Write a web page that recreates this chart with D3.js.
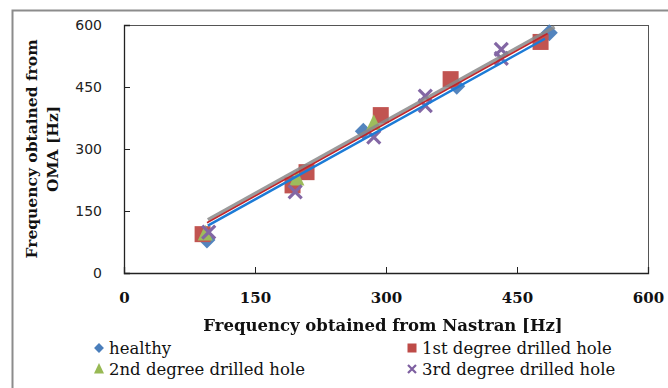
<!DOCTYPE html>
<html>
<head>
<meta charset="utf-8">
<script src="https://cdn.jsdelivr.net/npm/d3@7"></script>
<style>
  body { margin: 0; background: #fff; }
  svg { display: block; }
</style>
</head>
<body>
<div class="chart"></div>
<script>
// values (Nastran Hz, OMA Hz)
var seriesNames = ["healthy", "1st degree drilled hole", "2nd degree drilled hole", "3rd degree drilled hole"];
var healthy = [[95, 80], [193, 218], [274, 343], [381, 452], [487, 581]];
var firstDegree = [[90, 94], [193, 212], [209, 244], [294, 382], [374, 469], [477, 559]];
var secondDegree = [[93, 95], [198, 228], [286, 362]];
var thirdDegree = [[97, 99], [196, 196], [286, 329], [345, 428], [345, 405], [432, 541], [432, 519]];

// linear trendlines shown on the chart: slope, intercept, x from, x to
var trendSlope = [1.171, 1.174, 1.175];
var trendIntercept = [2.3, 10, 16];
var trendFrom = [96, 95, 96];
var trendTo = [482, 485, 493];

var xTicks = [0, 150, 300, 450, 600];
var yTicks = [0, 150, 300, 450, 600];

var svgWidth = 668;
var svgHeight = 388;
var margin = { top: 25, right: 20, bottom: 115, left: 124 };
var width = 648 - margin.left;
var height = 273 - margin.top;

var colors = ["#4a7ebb", "#be4b48", "#98b954", "#7d5fa0"];

var svg = d3.select(".chart").append("svg")
    .attr("width", svgWidth)
    .attr("height", svgHeight);

svg.append("rect")
    .attr("width", svgWidth).attr("height", svgHeight)
    .attr("fill", "#fff");

// outer chart frame (runs off the right and bottom edges)
svg.append("rect")
    .attr("x", 12.5).attr("y", 10.5)
    .attr("width", 670).attr("height", 400)
    .attr("fill", "none")
    .attr("stroke", "#8c8c8c")
    .attr("stroke-width", 2);

var chartGroup = svg.append("g")
    .attr("transform", `translate(${margin.left}, ${margin.top})`);

var x = d3.scaleLinear().domain([0, 600]).range([0, width]);
var y = d3.scaleLinear().domain([0, 600]).range([height, 0]);

// plot frame
chartGroup.append("rect")
    .attr("x", 0.5).attr("y", 0.5)
    .attr("width", width).attr("height", height)
    .attr("fill", "none")
    .attr("stroke", "#555")
    .attr("stroke-width", 1);

var bottomAxis = d3.axisBottom(x).tickValues(xTicks).tickSize(-6).tickPadding(19);
var leftAxis = d3.axisLeft(y).tickValues(yTicks).tickSize(-6).tickPadding(22);

var xAxis = chartGroup.append("g")
    .attr("transform", `translate(0, ${height})`)
    .call(bottomAxis);
xAxis.selectAll("text")
    .style("font-family", "'DejaVu Serif', serif")
    .style("font-weight", "bold")
    .style("font-size", "15px")
    .attr("fill", "#111");

var yAxis = chartGroup.append("g").call(leftAxis);
yAxis.selectAll("text")
    .style("font-family", "'DejaVu Sans', sans-serif")
    .style("font-size", "14px")
    .attr("fill", "#222")
    .attr("dy", "0.35em");

chartGroup.selectAll(".domain").attr("stroke", "#222").attr("stroke-width", 1.3);
chartGroup.selectAll(".tick line").attr("stroke", "#222");

// markers
function diamond(g, d, s) {
    g.append("rect")
        .attr("x", -s / 2).attr("y", -s / 2)
        .attr("width", s).attr("height", s)
        .attr("transform", `translate(${d[0]}, ${d[1]}) rotate(45)`)
        .attr("fill", colors[0]);
}
function square(g, d, s) {
    g.append("rect")
        .attr("x", d[0] - s / 2).attr("y", d[1] - s / 2)
        .attr("width", s).attr("height", s)
        .attr("fill", colors[1]);
}
function triangle(g, d, s) {
    g.append("path")
        .attr("d", `M${d[0]},${d[1] - s * 0.6}L${d[0] + s / 2},${d[1] + s * 0.45}L${d[0] - s / 2},${d[1] + s * 0.45}Z`)
        .attr("fill", colors[2]);
}
function cross(g, d, s, w) {
    g.append("path")
        .attr("d", `M${d[0] - s / 2},${d[1] - s / 2}L${d[0] + s / 2},${d[1] + s / 2}M${d[0] + s / 2},${d[1] - s / 2}L${d[0] - s / 2},${d[1] + s / 2}`)
        .attr("stroke", colors[3])
        .attr("stroke-width", w)
        .attr("fill", "none");
}

var markers = chartGroup.append("g").attr("opacity", 0.95);
healthy.forEach(function (d) { diamond(markers, [x(d[0]), y(d[1])], 12); });
firstDegree.forEach(function (d) { square(markers, [x(d[0]), y(d[1])], 16); });
secondDegree.forEach(function (d) { triangle(markers, [x(d[0]), y(d[1])], 15); });
thirdDegree.forEach(function (d) { cross(markers, [x(d[0]), y(d[1])], 13, 3.2); });

// trendlines
var trendColors = ["#1c7bd6", "#c0262b", "#8a8a8a"];
var trendWidths = [2.5, 1.5, 3.5];
var lineOrder = [2, 0, 1];
lineOrder.forEach(function (i) {
    chartGroup.append("line")
        .attr("x1", x(trendFrom[i]))
        .attr("y1", y(trendSlope[i] * trendFrom[i] + trendIntercept[i]))
        .attr("x2", x(trendTo[i]))
        .attr("y2", y(trendSlope[i] * trendTo[i] + trendIntercept[i]))
        .attr("stroke", trendColors[i])
        .attr("stroke-width", trendWidths[i])
        .attr("opacity", i === 2 ? 0.85 : 1);
});

// axis titles
chartGroup.append("text")
    .attr("x", 383 - margin.left)
    .attr("y", height + 58)
    .attr("text-anchor", "middle")
    .style("font-family", "'DejaVu Serif', serif")
    .style("font-weight", "bold")
    .style("font-size", "16.5px")
    .attr("fill", "#111")
    .text("Frequency obtained from Nastran [Hz]");

var yTitle = chartGroup.append("text")
    .attr("transform", "rotate(-90)")
    .attr("x", 0 - height / 2)
    .attr("y", 0 - margin.left + 37)
    .attr("text-anchor", "middle")
    .style("font-family", "'DejaVu Serif', serif")
    .style("font-weight", "bold")
    .style("font-size", "15.5px")
    .attr("fill", "#111");
yTitle.append("tspan").attr("x", 0 - height / 2).text("Frequency obtained from");
yTitle.append("tspan").attr("x", 0 - height / 2).attr("dy", 21).text("OMA [Hz]");

// legend
var legend = svg.append("g");
var legendX = [99, 412, 99, 412];
var legendY = [348, 348, 369, 369];
var drawers = [
    function (g, p) { diamond(g, p, 7); },
    function (g, p) { square(g, p, 9); },
    function (g, p) { triangle(g, p, 10); },
    function (g, p) { cross(g, p, 8, 2.2); }
];
seriesNames.forEach(function (name, i) {
    drawers[i](legend, [legendX[i], legendY[i]]);
    legend.append("text")
        .attr("x", legendX[i] + 10)
        .attr("y", legendY[i])
        .attr("dy", "0.35em")
        .style("font-family", "'DejaVu Serif', serif")
        .style("font-size", "16.5px")
        .attr("fill", "#111")
        .text(name);
});
</script>
</body>
</html>
